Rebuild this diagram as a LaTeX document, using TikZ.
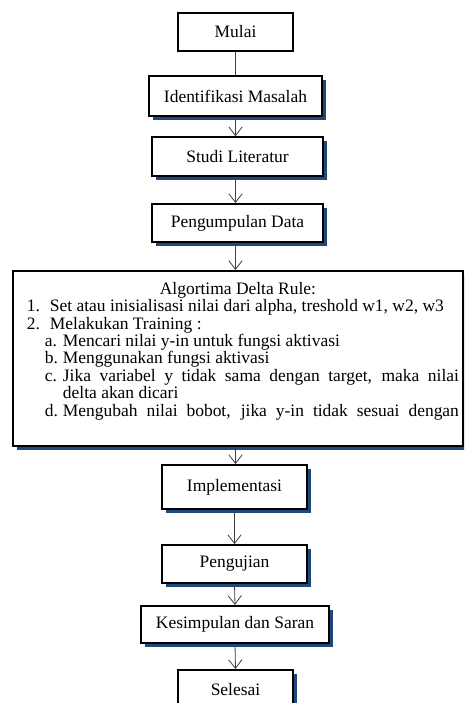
\documentclass[tikz,border=0pt]{standalone}
\usepackage{fontspec}
\setmainfont{Liberation Serif}
\usepackage{enumitem}
\usepackage{xcolor}
\usepackage{tikz}
\usetikzlibrary{shapes,arrows,arrows.meta,positioning,calc,shadows}

\definecolor{shadowblue}{RGB}{31,73,125}

\begin{document}
\begin{tikzpicture}[
    x=0.75pt, y=-0.75pt,
    box/.style={rectangle, draw, line width=1.4pt, fill=white, align=center, inner sep=0pt,
        font=\fontsize{13.1}{13.1}\selectfont},
    shadowed/.style={drop shadow={shadow xshift=2.8pt, shadow yshift=-2.8pt, fill=shadowblue, opacity=1}},
    arrow/.style={-{Straight Barb[length=6.5pt, width=10pt]}, line width=0.6pt, black!75},
    link/.style={line width=0.6pt, black!75}
]

% Page
\clip (0,0) rectangle (464,703);
\fill[white] (0,0) rectangle (464,703);

% Start
\node[box, minimum width=86pt, minimum height=28.5pt] (mulai) at (235.5, 32) {Mulai};

% Preparation
\node[box, shadowed, minimum width=130pt, minimum height=30pt] (identifikasi) at (235.5, 96) {Identifikasi Masalah};
\node[box, shadowed, minimum width=128pt, minimum height=29pt] (studi) at (237.5, 156.5) {Studi Literatur};
\node[box, shadowed, minimum width=128pt, minimum height=28.5pt] (data) at (237.5, 223) {Pengumpulan Data};

% Delta rule
\node[box, shadowed, anchor=north west, align=justify, text width=331.5pt, inner xsep=3pt,
      inner ysep=8.3pt] (delta) at (12, 270) {%
  \hyphenpenalty=10000
  {\centering Algortima Delta Rule:\par}
  \begin{enumerate}[label=\arabic*., labelindent=7.5pt, leftmargin=24.75pt, labelwidth=7.5pt,
      labelsep=*, align=left, topsep=0pt, partopsep=0pt, itemsep=0pt, parsep=0pt]
    \item Set atau inisialisasi nilai dari alpha, treshold w1, w2, w3
    \item Melakukan Training :
    \begin{enumerate}[label=\alph*., labelindent=-3.75pt, leftmargin=9.75pt, labelwidth=7.5pt,
        labelsep=*, align=left, topsep=0pt, partopsep=0pt, itemsep=0pt, parsep=0pt]
      \item Mencari nilai y-in untuk fungsi aktivasi
      \item Menggunakan fungsi aktivasi
      \item Jika variabel y tidak sama dengan target, maka nilai\linebreak delta akan dicari
      \item \parfillskip=0pt Mengubah nilai bobot, jika y-in tidak sesuai dengan\rule[-13.9pt]{0pt}{13.9pt}
    \end{enumerate}
  \end{enumerate}};

% Finish
\node[box, shadowed, minimum width=109pt, minimum height=33pt] (implementasi) at (234.5, 487) {Implementasi};
\node[box, shadowed, minimum width=109pt, minimum height=28.5pt] (pengujian) at (234.5, 564) {Pengujian};
\node[box, shadowed, minimum width=141pt, minimum height=28pt] (kesimpulan) at (235, 624.5) {Kesimpulan dan Saran};
\node[box, shadowed, minimum width=86pt, minimum height=30pt, anchor=north] (selesai) at (235.5, 669) {Selesai};

% Flow
\draw[link] (mulai.south) -- (mulai.south |- identifikasi.north);
\draw[arrow] (identifikasi.south) -- (identifikasi.south |- studi.north);
\draw[arrow] (studi.south -| identifikasi.south) -- (identifikasi.south |- data.north);
\draw[arrow] (data.south -| identifikasi.south) -- (identifikasi.south |- delta.north);
\draw[arrow] (delta.south -| identifikasi.south) -- (identifikasi.south |- implementasi.north);
\draw[arrow] (implementasi.south) -- (pengujian.north);
\draw[arrow] (pengujian.south) -- (kesimpulan.north);
\draw[arrow] (kesimpulan.south) -- (selesai.north);

\end{tikzpicture}
\end{document}
